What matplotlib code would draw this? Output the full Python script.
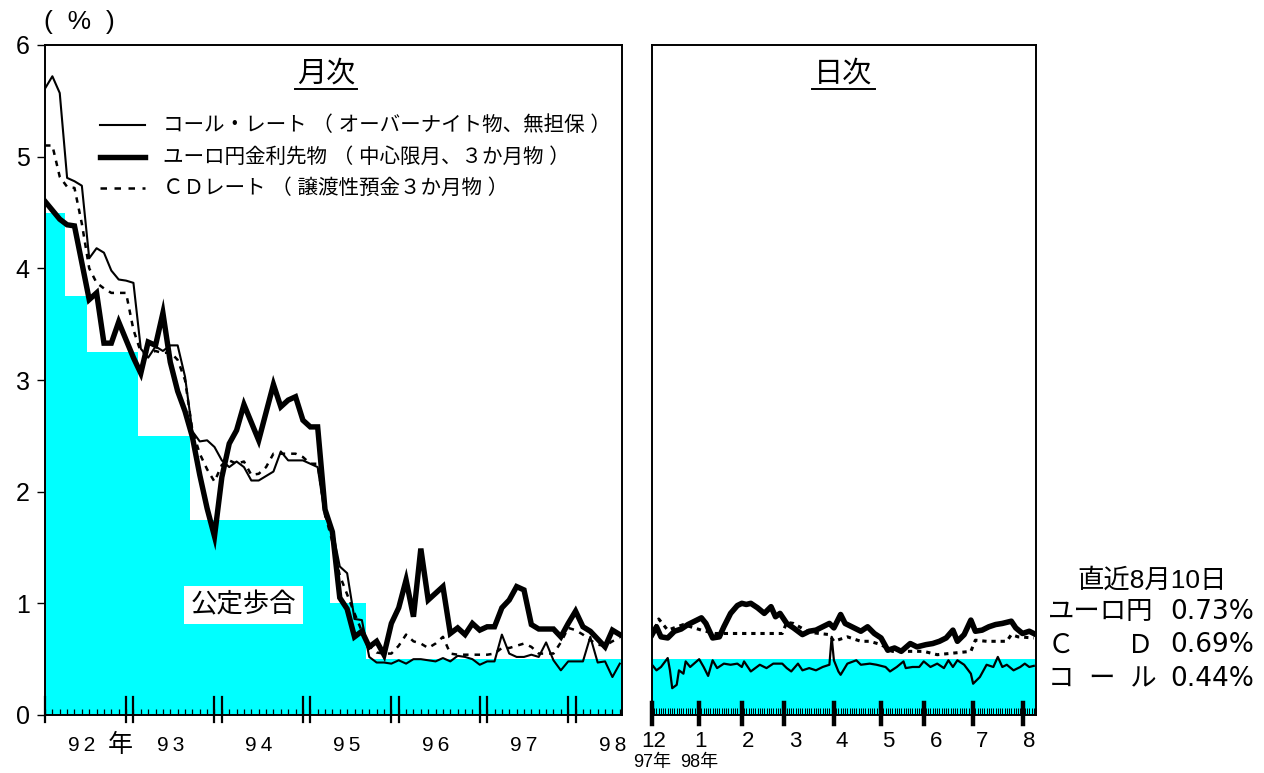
import numpy as np
import matplotlib
matplotlib.use("Agg")
from matplotlib import pyplot as plt
import matplotlib.transforms as mtransforms

plt.rcParams["font.family"] = ["Liberation Sans", "Noto Sans CJK JP"]

CYAN = "#00ffff"

# monthly data, Jan 1992 .. Jul 1998 (month index 0..78)
call_m = [5.61, 5.72, 5.57, 4.81, 4.78, 4.74, 4.09, 4.18, 4.14, 3.98,
          3.90, 3.89, 3.87, 3.28, 3.20, 3.30, 3.26, 3.31, 3.31, 3.03,
          2.54, 2.45, 2.46, 2.40, 2.28, 2.22, 2.27, 2.22, 2.10, 2.10,
          2.14, 2.18, 2.36, 2.28, 2.28, 2.28, 2.25, 2.22, 1.78, 1.66,
          1.33, 1.27, 0.86, 0.85, 0.52, 0.47, 0.47, 0.46, 0.49, 0.46,
          0.50, 0.50, 0.49, 0.48, 0.51, 0.48, 0.53, 0.52, 0.50, 0.45,
          0.48, 0.48, 0.72, 0.55, 0.52, 0.52, 0.54, 0.52, 0.65, 0.49,
          0.40, 0.48, 0.48, 0.48, 0.70, 0.47, 0.48, 0.34, 0.46]
euro_m = [4.60, 4.52, 4.44, 4.39, 4.38, 4.05, 3.72, 3.78, 3.33, 3.33,
          3.52, 3.36, 3.20, 3.06, 3.34, 3.31, 3.60, 3.16, 2.90, 2.72,
          2.49, 2.15, 1.85, 1.60, 2.13, 2.43, 2.55, 2.78, 2.62, 2.46,
          2.71, 2.96, 2.76, 2.82, 2.85, 2.64, 2.58, 2.58, 1.84, 1.64,
          1.05, 0.95, 0.70, 0.75, 0.61, 0.66, 0.54, 0.82, 0.96, 1.21,
          0.88, 1.49, 1.03, 1.09, 1.15, 0.73, 0.78, 0.72, 0.82, 0.76,
          0.79, 0.79, 0.96, 1.03, 1.15, 1.12, 0.81, 0.77, 0.77, 0.77,
          0.70, 0.82, 0.93, 0.79, 0.75, 0.68, 0.61, 0.76, 0.72]
cd_m = [5.10, 5.10, 4.82, 4.73, 4.72, 4.40, 4.00, 3.87, 3.82, 3.78,
        3.78, 3.78, 3.45, 3.25, 3.24, 3.26, 3.24, 3.25, 3.18, 3.00,
        2.55, 2.34, 2.20, 2.09, 2.24, 2.28, 2.25, 2.27, 2.15, 2.16,
        2.22, 2.34, 2.34, 2.34, 2.34, 2.31, 2.25, 2.25, 1.80, 1.55,
        1.25, 1.08, 0.91, 0.75, 0.62, 0.56, 0.55, 0.55, 0.62, 0.72,
        0.66, 0.64, 0.60, 0.64, 0.70, 0.55, 0.54, 0.54, 0.54, 0.54,
        0.54, 0.55, 0.60, 0.60, 0.62, 0.64, 0.61, 0.55, 0.55, 0.55,
        0.65, 0.78, 0.76, 0.72, 0.67, 0.63, 0.62, 0.66, 0.69]
year_labels = ["92", "93", "94", "95", "96", "97", "98"]

# official discount rate (公定歩合) steps, month index
odr_edges = [0, 2.7, 5.7, 12.6, 19.7, 38.7, 43.5, 78.5]
odr_rates = [4.5, 3.75, 3.25, 2.5, 1.75, 1.0, 0.5]

# daily data, business-day index from 1 Dec 1997 to 10 Aug 1998
month_days = [21, 19, 19, 22, 21, 19, 22, 22, 6]
month_labels = ["12", "1", "2", "3", "4", "5", "6", "7", "8"]

euro_days = [0, 2, 4, 7, 10, 13, 16, 19, 22, 24, 27, 30, 32, 35, 38, 40, 42, 44, 47, 50,
             53, 55, 57, 60, 63, 67, 70, 73, 76, 79, 81, 84, 86, 89, 93, 96, 99, 102, 105, 108,
             111, 115, 118, 122, 125, 128, 131, 134, 136, 139, 142, 144, 147, 150, 153, 156, 160, 162, 165, 168,
             170]
euro_d = [0.72, 0.79, 0.70, 0.69, 0.75, 0.77, 0.81, 0.84, 0.87, 0.82, 0.69, 0.70, 0.79, 0.91, 0.98, 1.00, 0.99, 1.00, 0.96, 0.91,
          0.97, 0.88, 0.91, 0.82, 0.78, 0.72, 0.75, 0.76, 0.79, 0.82, 0.78, 0.90, 0.82, 0.79, 0.75, 0.79, 0.73, 0.69, 0.58, 0.60,
          0.57, 0.64, 0.61, 0.63, 0.64, 0.66, 0.69, 0.76, 0.66, 0.72, 0.85, 0.75, 0.76, 0.79, 0.81, 0.82, 0.84, 0.78, 0.73, 0.75,
          0.73]
call_days = [0, 2, 4, 7, 8, 9, 11, 12, 14, 15, 17, 21, 23, 25, 27, 29, 32, 35, 38, 40,
             41, 44, 48, 51, 54, 58, 60, 62, 65, 67, 70, 73, 76, 79, 80, 81, 83, 84, 87, 91,
             93, 97, 100, 104, 106, 109, 112, 113, 116, 119, 121, 124, 127, 130, 132, 134, 136, 139, 142, 143,
             146, 149, 152, 154, 156, 158, 161, 164, 166, 168, 170]
call_d = [0.45, 0.40, 0.43, 0.51, 0.40, 0.24, 0.27, 0.40, 0.37, 0.48, 0.43, 0.50, 0.43, 0.35, 0.49, 0.42, 0.46, 0.45, 0.46, 0.43,
          0.48, 0.39, 0.45, 0.42, 0.46, 0.46, 0.42, 0.39, 0.46, 0.40, 0.42, 0.40, 0.43, 0.45, 0.70, 0.49, 0.39, 0.36, 0.46, 0.49,
          0.45, 0.46, 0.45, 0.43, 0.39, 0.43, 0.48, 0.42, 0.43, 0.43, 0.48, 0.43, 0.46, 0.42, 0.49, 0.43, 0.49, 0.45, 0.37, 0.28,
          0.34, 0.45, 0.43, 0.52, 0.43, 0.45, 0.40, 0.43, 0.46, 0.43, 0.44]
cd_days = [0, 3, 7, 14, 22, 28, 58, 60, 63, 70, 79, 81, 87, 93, 97, 102, 107, 121, 127, 142,
           144, 149, 158, 160, 163, 170]
cd_d = [0.70, 0.86, 0.76, 0.81, 0.76, 0.73, 0.73, 0.83, 0.82, 0.74, 0.72, 0.66, 0.70, 0.66, 0.66, 0.63, 0.57, 0.57, 0.54, 0.57,
        0.67, 0.66, 0.66, 0.72, 0.70, 0.69]

latest = [("ユーロ円", "0.73%"), ("Ｃ　　Ｄ", "0.69%"), ("コ  ー  ル", "0.44%")]

legend_items = ["コール・レート （ オーバーナイト物、無担保 ）",
                "ユーロ円金利先物 （ 中心限月、３か月物 ）",
                "ＣＤレート （ 譲渡性預金３か月物 ）"]

W, H = 1264, 773
fig = plt.figure(figsize=(W / 100, H / 100), dpi=100)


def fx(px):
    return px / W


def fy(py):
    return 1 - py / H


ax1 = fig.add_axes([fx(45), fy(715), fx(622) - fx(45), fy(45) - fy(715)])
ax2 = fig.add_axes([fx(652), fy(715), fx(1036) - fx(652), fy(45) - fy(715)])

thin = dict(color="k", lw=1.5, zorder=3)
thick = dict(color="k", lw=3.9, zorder=4, solid_joinstyle="miter")
dash = dict(color="k", lw=1.8, ls=(0, (2.2, 2.4)), zorder=3)

# ---- monthly panel
months = np.arange(len(call_m))
ax1.fill_between(odr_edges, odr_rates + [odr_rates[-1]], step="post",
                 color=CYAN, lw=0, zorder=1, clip_on=False)
ax1.plot(months, cd_m, **dash)
ax1.plot(months, call_m, **thin)
ax1.plot(months, euro_m, **thick)

ax1.set_xlim(0, 78.3)
ax1.set_ylim(0, 6)
ax1.set_yticks(range(7))
ax1.tick_params(axis="y", direction="out", length=6, width=1, labelsize=18, pad=5)
ax1.set_xticks(months)
ax1.tick_params(axis="x", direction="in", length=4.5, width=0.9, labelbottom=False)

trans1 = mtransforms.blended_transform_factory(ax1.transData, ax1.transAxes)
year_marks = [0] + [m for k in range(1, 7) for m in (12 * k - 1, 12 * k)]
for m in year_marks:
    ax1.plot([m, m], [-0.0104, 0.027], transform=trans1, color="k", lw=1.6,
             clip_on=False, zorder=5)
for k, lab in enumerate(year_labels):
    ax1.text(5 + 12 * k, -0.045, "\u2009".join(lab), transform=trans1,
             ha="center", va="center", fontsize=15)
ax1.text(10.2, -0.045, "年", transform=trans1, ha="center", va="center", fontsize=18)

ax1.text(0.487, 0.958, "月次", transform=ax1.transAxes, ha="center", va="center", fontsize=21)
ax1.plot([0.433, 0.541], [0.935, 0.935], transform=ax1.transAxes, color="k", lw=1.4, clip_on=False)

leg_y = [0.881, 0.833, 0.787]
for y, lab, st in zip(leg_y, legend_items, [thin, thick, dash]):
    s = dict(st)
    if st is dash:
        s["ls"] = (0, (2.6, 3.0))
    ax1.plot([0.095, 0.173], [y, y], transform=ax1.transAxes, **s)
    ax1.text(0.2045, y, lab, transform=ax1.transAxes, ha="left", va="center", fontsize=14.8)

ax1.text(26.9, 0.985, "公定歩合", ha="center", va="center", fontsize=19, zorder=6,
         bbox=dict(facecolor="white", edgecolor="none", pad=5))

# ---- daily panel
n_days = sum(month_days)
ax2.fill_between([0, n_days], [0.5, 0.5], color=CYAN, lw=0, zorder=1)
ax2.plot(cd_days, cd_d, color="k", lw=2.2, ls=(0, (1.4, 1.6)), zorder=3)
ax2.plot(call_days, call_d, color="k", lw=1.6, zorder=3)
ax2.plot(euro_days, euro_d, color="k", lw=4.0, zorder=4)

ax2.set_xlim(0, n_days)
ax2.set_ylim(0, 6)
ax2.tick_params(axis="y", left=False, labelleft=False)
ax2.set_xticks(np.arange(n_days + 1))
ax2.tick_params(axis="x", direction="in", length=5, width=0.7, labelbottom=False)

trans2 = mtransforms.blended_transform_factory(ax2.transData, ax2.transAxes)
month_starts = np.cumsum([0] + month_days[:-1])
for d in month_starts:
    ax2.plot([d, d], [-0.013, 0.018], transform=trans2, color="k", lw=3.2,
             clip_on=False, zorder=5)
for k, lab in enumerate(month_labels):
    ax2.text(0.9 + 20.9 * k, -0.040, lab, transform=trans2, ha="center", va="center", fontsize=16)
ax2.text(0, -0.071, "97年", transform=trans2, ha="center", va="center", fontsize=13)
ax2.text(21, -0.071, "98年", transform=trans2, ha="center", va="center", fontsize=13)

ax2.text(0.497, 0.958, "日次", transform=ax2.transAxes, ha="center", va="center", fontsize=21)
ax2.plot([0.417, 0.581], [0.935, 0.935], transform=ax2.transAxes, color="k", lw=1.4, clip_on=False)

for ax in (ax1, ax2):
    for sp in ax.spines.values():
        sp.set_linewidth(1.4)
        sp.set_zorder(5)

# ---- texts outside the axes
fig.text(fx(79), fy(22), "(  %  )", ha="center", va="center", fontsize=19)
fig.text(fx(1152), fy(580), "直近8月10日", ha="center", va="center", fontsize=19)
for k, (name, val) in enumerate(latest):
    y = fy(612 + 33.5 * k)
    fig.text(fx(1048), y, name, ha="left", va="center", fontsize=19)
    fig.text(fx(1170), y, val, ha="left", va="center", fontsize=19, family="DejaVu Sans")

fig.savefig("out.png", dpi=100)
